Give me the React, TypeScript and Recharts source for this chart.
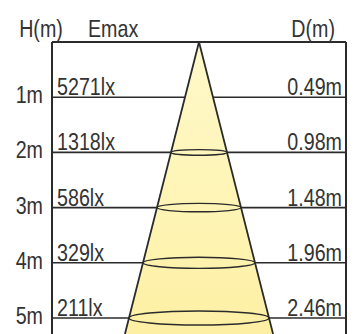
import React from "react";
import { Area, ComposedChart, Line, ReferenceArea, ReferenceLine, XAxis, YAxis } from "recharts";

// mounting heights (m) and the values printed on each row
const HEIGHTS = [1, 2, 3, 4, 5];
const EMAX = ["5271lx", "1318lx", "586lx", "329lx", "211lx"];
const DIAMETERS = [0.49, 0.98, 1.48, 1.96, 2.46];
const DIAMETER_LABELS = ["0.49m", "0.98m", "1.48m", "1.96m", "2.46m"];

// the beam runs on past 5 m to the bottom edge of the drawing
const BEAM_END_H = 5.29;
const BEAM_END_D = 2.6;
const FRAME_HALF_WIDTH = 2.58;

const FONT = "'Liberation Sans', Arial, sans-serif";
const INK = "#2b2b2b";
const TEXT = "#333";
// no condensed face installed, so squeeze the regular one
const SQUEEZE = 0.82;

const cone = [
  { x: -BEAM_END_D / 2, edge: BEAM_END_H, band: [BEAM_END_H, BEAM_END_H] },
  { x: 0, edge: 0, band: [0, BEAM_END_H] },
  { x: BEAM_END_D / 2, edge: BEAM_END_H, band: [BEAM_END_H, BEAM_END_H] },
];

function Txt({ x, y, anchor = "start", children }: { x: number; y: number; anchor?: string; children: React.ReactNode }) {
  return (
    <text
      transform={`translate(${x},${y}) scale(${SQUEEZE},1)`}
      textAnchor={anchor}
      fontFamily={FONT}
      fontSize={24}
      fill={TEXT}
    >
      {children}
    </text>
  );
}

function HeightTick(props: any) {
  const { x, y, payload } = props;
  return (
    <Txt x={x} y={y + 6} anchor="end">
      {payload.value}m
    </Txt>
  );
}

export default function App() {
  return (
    <div style={{ position: "absolute", left: 0, top: 0 }}>
      <ComposedChart width={356} height={334} data={cone} margin={{ top: 42, right: 0, bottom: 0, left: 0 }}>
        <defs>
          <linearGradient id="beam" x1="0" y1="0" x2="0" y2="1">
            <stop offset="0%" stopColor="#fff9ca" />
            <stop offset="100%" stopColor="#fdf0a4" />
          </linearGradient>
        </defs>
        <XAxis dataKey="x" type="number" domain={[-FRAME_HALF_WIDTH, FRAME_HALF_WIDTH]} hide />
        <YAxis
          type="number"
          domain={[0, BEAM_END_H]}
          reversed
          ticks={HEIGHTS}
          width={52}
          tickSize={0}
          tickMargin={9}
          tick={<HeightTick />}
          axisLine={{ stroke: INK, strokeWidth: 2 }}
          tickLine={false}
        />
        <YAxis yAxisId="r" orientation="right" width={10} tick={false} tickLine={false} axisLine={{ stroke: INK, strokeWidth: 2 }} />

        <ReferenceLine
          y={0}
          stroke={INK}
          strokeWidth={2}
          label={(p: any) => {
            const { x, y, width } = p.viewBox;
            return (
              <g>
                <Txt x={x - 11} y={y - 5} anchor="middle">H(m)</Txt>
                <Txt x={x + 36} y={y - 5}>Emax</Txt>
                <Txt x={x + width - 11} y={y - 5} anchor="end">D(m)</Txt>
              </g>
            );
          }}
        />

        {HEIGHTS.map((h, i) => (
          <ReferenceLine
            key={`l${h}`}
            segment={[{ x: -FRAME_HALF_WIDTH, y: h }, { x: -DIAMETERS[i] / 2, y: h }]}
            stroke={INK}
            strokeWidth={1.6}
            label={(p: any) => (
              <Txt x={p.viewBox.x + 5} y={p.viewBox.y - 2}>{EMAX[i]}</Txt>
            )}
          />
        ))}
        {HEIGHTS.map((h, i) => (
          <ReferenceLine
            key={`r${h}`}
            segment={[{ x: DIAMETERS[i] / 2, y: h }, { x: FRAME_HALF_WIDTH, y: h }]}
            stroke={INK}
            strokeWidth={1.6}
            label={(p: any) => (
              <Txt x={p.viewBox.x + p.viewBox.width - 4} y={p.viewBox.y - 2} anchor="end">
                {DIAMETER_LABELS[i]}
              </Txt>
            )}
          />
        ))}

        <Area dataKey="band" type="linear" fill="url(#beam)" fillOpacity={1} stroke="none" isAnimationActive={false} />
        <Line dataKey="edge" type="linear" stroke={INK} strokeWidth={1.8} dot={false} isAnimationActive={false} />

        {HEIGHTS.slice(1).map((h, k) => {
          const d = DIAMETERS[k + 1];
          return (
            <ReferenceArea
              key={`e${h}`}
              x1={-d / 2}
              x2={d / 2}
              y1={h - 0.02}
              y2={h + 0.02}
              zIndex={700}
              shape={(p: any) => (
                <ellipse
                  cx={p.x + p.width / 2}
                  cy={p.y + p.height / 2}
                  rx={p.width / 2}
                  ry={p.width * 0.05}
                  fill="none"
                  stroke={INK}
                  strokeWidth={1.4}
                />
              )}
            />
          );
        })}
      </ComposedChart>
    </div>
  );
}
